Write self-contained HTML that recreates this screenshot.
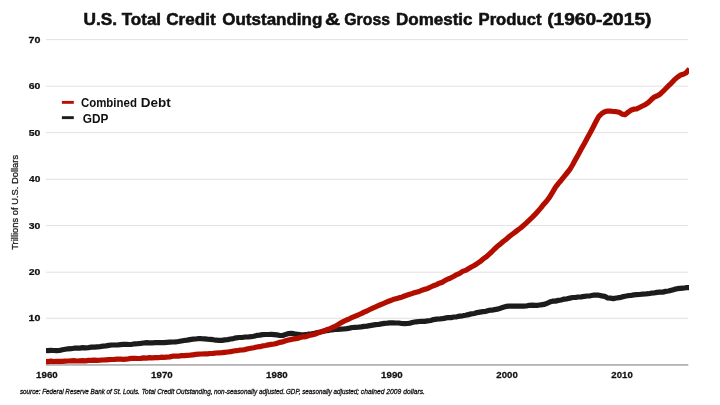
<!DOCTYPE html>
<html><head><meta charset="utf-8"><title>U.S. Total Credit Outstanding &amp; GDP</title>
<style>html,body{margin:0;padding:0;background:#fff;width:720px;height:405px;overflow:hidden}</style></head>
<body>
<svg width="720" height="405" viewBox="0 0 720 405" style="display:block">
<rect width="720" height="405" fill="#fff"/>
<rect x="46" y="39.1" width="642.3" height="1" fill="#e2e2e2"/>
<rect x="46" y="85.7" width="642.3" height="1" fill="#e2e2e2"/>
<rect x="46" y="132.1" width="642.3" height="1" fill="#e2e2e2"/>
<rect x="46" y="178.8" width="642.3" height="1" fill="#e2e2e2"/>
<rect x="46" y="225.1" width="642.3" height="1" fill="#e2e2e2"/>
<rect x="46" y="271.7" width="642.3" height="1" fill="#e2e2e2"/>
<rect x="46" y="317.8" width="642.3" height="1" fill="#e2e2e2"/>
<rect x="46" y="364.0" width="642.3" height="1.8" fill="#b4b4b4"/>
<g font-family="'Liberation Sans', sans-serif" fill="#111" opacity="0.999" style="will-change:opacity">
<text transform="translate(83.48,25) scale(1.0161,1)" font-size="17" font-weight="bold" stroke="#111" stroke-width="0.55">U.S.</text>
<text transform="translate(121.75,25) scale(1.0000,1)" font-size="17" font-weight="bold" stroke="#111" stroke-width="0.55">Total</text>
<text transform="translate(166.25,25) scale(1.0052,1)" font-size="17" font-weight="bold" stroke="#111" stroke-width="0.55">Credit</text>
<text transform="translate(222.25,25) scale(1.0000,1)" font-size="17" font-weight="bold" stroke="#111" stroke-width="0.55">Outstanding</text>
<text transform="translate(325.08,25) scale(1.2273,1)" font-size="17" font-weight="bold" stroke="#111" stroke-width="0.55">&amp;</text>
<text transform="translate(344.30,25) scale(0.9319,1)" font-size="17" font-weight="bold" stroke="#111" stroke-width="0.55">Gross</text>
<text transform="translate(396.00,25) scale(1.0000,1)" font-size="17" font-weight="bold" stroke="#111" stroke-width="0.55">Domestic</text>
<text transform="translate(478.52,25) scale(0.9802,1)" font-size="17" font-weight="bold" stroke="#111" stroke-width="0.55">Product</text>
<text transform="translate(547.16,25) scale(1.1264,1)" font-size="17" font-weight="bold" stroke="#111" stroke-width="0.55">(1960-2015)</text>
<text transform="translate(28.43,42.7) scale(1.1385,1)" font-size="9.4" font-weight="bold" stroke="#111" stroke-width="0.25">70</text>
<text transform="translate(28.72,89.3) scale(1.1100,1)" font-size="9.4" font-weight="bold" stroke="#111" stroke-width="0.25">60</text>
<text transform="translate(28.72,135.7) scale(1.1100,1)" font-size="9.4" font-weight="bold" stroke="#111" stroke-width="0.25">50</text>
<text transform="translate(29.00,182.4) scale(1.0829,1)" font-size="9.4" font-weight="bold" stroke="#111" stroke-width="0.25">40</text>
<text transform="translate(28.72,228.7) scale(1.1100,1)" font-size="9.4" font-weight="bold" stroke="#111" stroke-width="0.25">30</text>
<text transform="translate(28.72,275.3) scale(1.1100,1)" font-size="9.4" font-weight="bold" stroke="#111" stroke-width="0.25">20</text>
<text transform="translate(28.43,321.4) scale(1.1385,1)" font-size="9.4" font-weight="bold" stroke="#111" stroke-width="0.25">10</text>
<text transform="translate(36.09,377.7) scale(1.0146,1)" font-size="9.6" font-weight="bold" stroke="#111" stroke-width="0.25">1960</text>
<text transform="translate(151.09,377.7) scale(1.0146,1)" font-size="9.6" font-weight="bold" stroke="#111" stroke-width="0.25">1970</text>
<text transform="translate(266.09,377.7) scale(1.0146,1)" font-size="9.6" font-weight="bold" stroke="#111" stroke-width="0.25">1980</text>
<text transform="translate(381.09,377.7) scale(1.0146,1)" font-size="9.6" font-weight="bold" stroke="#111" stroke-width="0.25">1990</text>
<text transform="translate(496.35,377.7) scale(1.0024,1)" font-size="9.6" font-weight="bold" stroke="#111" stroke-width="0.25">2000</text>
<text transform="translate(611.35,377.7) scale(1.0024,1)" font-size="9.6" font-weight="bold" stroke="#111" stroke-width="0.25">2010</text>
<text transform="translate(80.95,107) scale(0.8955,1)" font-size="12.8" font-weight="bold">Combined</text>
<text transform="translate(140.71,107) scale(1.0545,1)" font-size="12.8" font-weight="bold">Debt</text>
<text transform="translate(82.84,122.6) scale(0.9234,1)" font-size="12.8" font-weight="bold">GDP</text>
<text transform="translate(18.3,249.75) rotate(-90) scale(0.9869,1)" font-size="9.5" stroke="#111" stroke-width="0.25">Trillions of U.S. Dollars</text>
<text transform="translate(19.90,394.3) scale(0.8762,1)" font-size="7.2" font-style="italic" stroke="#111" stroke-width="0.3">source: Federal Reserve Bank of St. Louis.</text>
<text transform="translate(141.73,394.3) scale(0.8939,1)" font-size="7.2" font-style="italic" stroke="#111" stroke-width="0.3">Total Credit Outstanding,</text>
<text transform="translate(213.98,394.3) scale(0.8917,1)" font-size="7.2" font-style="italic" stroke="#111" stroke-width="0.3">non-seasonally adjusted.</text>
<text transform="translate(285.98,394.3) scale(0.8707,1)" font-size="7.2" font-style="italic" stroke="#111" stroke-width="0.3">GDP, seasonally adjusted;</text>
<text transform="translate(360.87,394.3) scale(0.9353,1)" font-size="7.2" font-style="italic" stroke="#111" stroke-width="0.3">chained 2009 dollars.</text>
</g>
<rect x="61.9" y="100.9" width="11.9" height="2.9" fill="#b30f03"/>
<rect x="61.9" y="116.2" width="11.9" height="2.9" fill="#1d1d1d"/>
<clipPath id="cp"><rect x="46.9" y="30" width="641.8" height="340"/></clipPath><filter id="bl" x="-5%" y="-5%" width="110%" height="110%"><feGaussianBlur stdDeviation="0.35"/></filter><g clip-path="url(#cp)"><g filter="url(#bl)">
<path d="M45.0,350.5 L47.9,350.6 L50.8,350.4 L53.7,350.5 L56.6,350.7 L59.5,350.5 L62.4,349.8 L65.3,349.3 L68.2,348.8 L71.1,348.7 L74.0,348.2 L76.9,348.2 L79.8,348.1 L82.7,347.7 L85.6,347.8 L88.5,347.6 L91.4,347.2 L94.3,347.2 L97.2,346.8 L100.1,346.6 L103.0,346.2 L105.9,345.9 L108.8,345.4 L111.7,345.0 L114.6,345.0 L117.5,345.0 L120.4,344.6 L123.3,344.4 L126.2,344.4 L129.1,344.5 L132.0,344.3 L134.9,343.8 L137.8,343.7 L140.7,343.4 L143.6,343.0 L146.5,342.7 L149.4,342.9 L152.3,342.8 L155.2,342.7 L158.1,342.6 L161.0,342.6 L163.9,342.6 L166.8,342.3 L169.7,342.1 L172.6,342.0 L175.5,341.9 L178.4,341.5 L181.3,341.0 L184.2,340.5 L187.1,340.1 L190.0,339.6 L192.9,339.2 L195.8,339.0 L198.7,338.5 L201.6,338.7 L204.5,338.8 L207.4,339.1 L210.3,339.3 L213.2,339.7 L216.1,340.2 L219.0,340.3 L221.9,340.4 L224.8,339.9 L227.7,339.6 L230.6,339.0 L233.5,338.6 L236.4,337.8 L239.3,337.5 L242.2,337.5 L245.1,337.0 L248.0,337.0 L250.9,336.7 L253.8,336.2 L256.7,335.4 L259.6,335.1 L262.5,334.6 L265.4,334.5 L268.3,334.5 L271.2,334.4 L274.1,334.6 L277.0,334.9 L279.9,335.5 L282.8,335.5 L285.7,334.4 L288.6,333.6 L291.5,333.3 L294.4,333.9 L297.3,334.3 L300.2,334.7 L303.1,334.8 L306.0,334.7 L308.9,334.1 L311.8,333.8 L314.7,333.2 L317.6,332.5 L320.5,332.0 L323.4,331.3 L326.3,330.7 L329.2,330.3 L332.1,329.8 L335.0,329.5 L337.9,329.4 L340.8,329.2 L343.7,329.0 L346.6,328.6 L349.5,328.1 L352.4,327.5 L355.3,327.3 L358.2,327.2 L361.1,326.9 L364.0,326.4 L366.9,326.1 L369.8,325.6 L372.7,325.1 L375.6,324.6 L378.5,324.5 L381.4,323.9 L384.3,323.4 L387.2,323.2 L390.1,322.9 L393.0,322.8 L395.9,323.0 L398.8,323.0 L401.7,323.5 L404.6,323.6 L407.5,323.5 L410.4,323.1 L413.3,322.3 L416.2,321.8 L419.1,321.5 L422.0,321.3 L424.9,321.4 L427.8,320.8 L430.7,320.5 L433.6,319.6 L436.5,319.2 L439.4,319.0 L442.3,318.7 L445.2,318.1 L448.1,317.5 L451.0,317.6 L453.9,317.0 L456.8,316.8 L459.7,316.1 L462.6,315.8 L465.5,315.3 L468.4,314.6 L471.3,313.9 L474.2,313.5 L477.1,312.6 L480.0,312.1 L482.9,311.6 L485.8,311.3 L488.7,310.4 L491.6,310.2 L494.5,309.6 L497.4,309.2 L500.3,308.3 L503.2,307.3 L506.1,306.4 L509.0,306.1 L511.9,306.2 L514.8,306.1 L517.7,306.2 L520.6,306.1 L523.5,306.2 L526.4,306.0 L529.3,305.3 L532.2,305.2 L535.1,305.4 L538.0,305.3 L540.9,304.8 L543.8,304.4 L546.7,303.5 L549.6,302.1 L552.5,301.2 L555.4,301.1 L558.3,300.4 L561.2,300.0 L564.1,299.1 L567.0,298.8 L569.9,298.1 L572.8,297.5 L575.7,297.4 L578.6,297.0 L581.5,296.9 L584.4,296.3 L587.3,296.0 L590.2,295.8 L593.1,295.2 L596.0,295.2 L598.9,295.2 L601.8,295.9 L604.7,296.3 L607.6,298.0 L610.5,298.2 L613.4,298.6 L616.3,298.0 L619.2,297.7 L622.1,296.9 L625.0,296.2 L627.9,295.7 L630.8,295.5 L633.7,294.9 L636.6,294.7 L639.5,294.5 L642.4,294.2 L645.3,294.0 L648.2,293.7 L651.1,293.2 L654.0,293.0 L656.9,292.4 L659.8,292.1 L662.7,292.1 L665.6,291.4 L668.5,291.0 L671.4,290.2 L674.3,289.4 L677.2,288.7 L680.1,288.4 L683.0,288.2 L685.9,287.7 L688.8,287.7 L689.5,287.6" fill="none" stroke="#1d1d1d" stroke-width="5.2" stroke-linejoin="round" stroke-linecap="butt"/>
<path d="M45.0,361.3 L47.9,361.6 L50.8,361.2 L53.7,361.5 L56.6,361.3 L59.5,361.3 L62.4,361.3 L65.3,361.1 L68.2,361.0 L71.1,360.8 L74.0,360.7 L76.9,361.0 L79.8,360.8 L82.7,360.6 L85.6,360.8 L88.5,360.4 L91.4,360.4 L94.3,360.2 L97.2,360.3 L100.1,360.2 L103.0,360.0 L105.9,359.8 L108.8,359.6 L111.7,359.5 L114.6,359.4 L117.5,359.2 L120.4,359.1 L123.3,359.3 L126.2,359.2 L129.1,358.7 L132.0,358.4 L134.9,358.4 L137.8,358.5 L140.7,358.4 L143.6,357.9 L146.5,358.1 L149.4,357.7 L152.3,357.8 L155.2,357.7 L158.1,357.7 L161.0,357.2 L163.9,357.3 L166.8,357.1 L169.7,356.9 L172.6,356.2 L175.5,356.2 L178.4,356.2 L181.3,355.6 L184.2,355.6 L187.1,355.3 L190.0,355.2 L192.9,354.8 L195.8,354.4 L198.7,354.2 L201.6,354.0 L204.5,353.8 L207.4,353.9 L210.3,353.5 L213.2,353.4 L216.1,353.0 L219.0,352.8 L221.9,352.6 L224.8,352.3 L227.7,352.0 L230.6,351.7 L233.5,351.0 L236.4,350.7 L239.3,350.2 L242.2,350.0 L245.1,349.6 L248.0,348.7 L250.9,348.2 L253.8,347.7 L256.7,347.0 L259.6,346.7 L262.5,345.9 L265.4,345.5 L268.3,344.9 L271.2,344.4 L274.1,344.0 L277.0,343.4 L279.9,342.3 L282.8,341.9 L285.7,340.8 L288.6,340.0 L291.5,339.4 L294.4,338.8 L297.3,338.4 L300.2,337.5 L303.1,336.8 L306.0,336.6 L308.9,335.5 L311.8,335.0 L314.7,334.3 L317.6,333.1 L320.5,332.0 L323.4,331.1 L326.3,329.8 L329.2,329.0 L332.1,327.7 L335.0,326.4 L337.9,324.7 L340.8,322.8 L343.7,321.4 L346.6,320.0 L349.5,318.8 L352.4,317.3 L355.3,316.1 L358.2,315.0 L361.1,313.7 L364.0,312.1 L366.9,311.0 L369.8,309.5 L372.7,308.1 L375.6,306.9 L378.5,305.5 L381.4,304.3 L384.3,303.1 L387.2,301.8 L390.1,300.7 L393.0,299.6 L395.9,298.7 L398.8,297.9 L401.7,297.2 L404.6,296.0 L407.5,295.0 L410.4,294.1 L413.3,293.1 L416.2,292.2 L419.1,291.5 L422.0,290.2 L424.9,289.3 L427.8,288.4 L430.7,287.0 L433.6,285.7 L436.5,284.6 L439.4,283.2 L442.3,282.2 L445.2,280.4 L448.1,279.0 L451.0,277.8 L453.9,276.3 L456.8,274.6 L459.7,273.3 L462.6,271.4 L465.5,270.4 L468.4,268.7 L471.3,267.0 L474.2,265.5 L477.1,263.6 L480.0,261.7 L482.9,259.2 L485.8,257.2 L488.7,254.6 L491.6,252.0 L494.5,249.0 L497.4,246.3 L500.3,244.1 L503.2,241.5 L506.1,239.4 L509.0,236.8 L511.9,234.5 L514.8,232.4 L517.7,230.1 L520.6,228.0 L523.5,225.5 L526.4,222.9 L529.3,220.1 L532.2,217.4 L535.1,214.4 L538.0,211.2 L540.9,207.9 L543.8,204.2 L546.7,201.0 L549.6,197.2 L552.5,192.4 L555.4,187.4 L558.3,183.6 L561.2,180.2 L564.1,176.6 L567.0,173.0 L569.9,169.3 L572.8,164.5 L575.7,159.1 L578.6,154.0 L581.5,148.6 L584.4,143.4 L587.3,138.0 L590.2,132.8 L593.1,127.2 L596.0,121.5 L598.9,116.3 L601.8,113.5 L604.7,111.8 L607.6,111.0 L610.5,111.2 L613.4,111.5 L616.3,111.7 L619.2,112.3 L622.1,114.1 L625.0,114.7 L627.9,112.4 L630.8,110.3 L633.7,109.2 L636.6,108.9 L639.5,107.5 L642.4,106.0 L645.3,104.7 L648.2,102.6 L651.1,99.8 L654.0,97.2 L656.9,96.0 L659.8,94.4 L662.7,91.7 L665.6,88.7 L668.5,85.7 L671.4,83.1 L674.3,79.9 L677.2,77.4 L680.1,75.3 L683.0,74.3 L685.9,73.0 L688.8,69.7 L689.5,68.7" fill="none" stroke="#b30f03" stroke-width="5.2" stroke-linejoin="round" stroke-linecap="butt"/>
</g></g>
</svg>
</body></html>
